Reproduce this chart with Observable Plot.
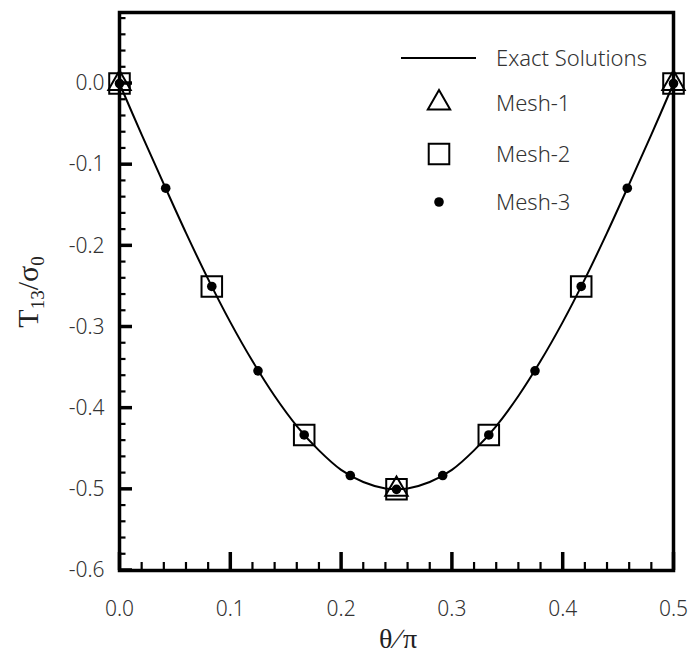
<!DOCTYPE html>
<html>
<head>
<meta charset="utf-8">
<script src="https://cdn.jsdelivr.net/npm/d3@7"></script>
<script src="https://cdn.jsdelivr.net/npm/@observablehq/plot@0.6"></script>
<style>
  html, body { margin: 0; padding: 0; background: #fff; }
</style>
</head>
<body>
<div id="chart"></div>
<script>
// ---- data ----
const exactX = [0, 0.02, 0.04, 0.06, 0.08, 0.10, 0.12, 0.14, 0.16, 0.18, 0.20, 0.22, 0.24, 0.25,
                0.26, 0.28, 0.30, 0.32, 0.34, 0.36, 0.38, 0.40, 0.42, 0.44, 0.46, 0.48, 0.50];
const exactY = [0, -0.063, -0.124, -0.184, -0.241, -0.294, -0.342, -0.385, -0.422, -0.452, -0.476, -0.491, -0.499, -0.5,
                -0.499, -0.491, -0.476, -0.452, -0.422, -0.385, -0.342, -0.294, -0.241, -0.184, -0.124, -0.063, 0];

const mesh1X = [0, 0.25, 0.5];
const mesh1Y = [0, -0.5, 0];

const mesh2X = [0, 0.0833, 0.1667, 0.25, 0.3333, 0.4167, 0.5];
const mesh2Y = [0, -0.25, -0.433, -0.5, -0.433, -0.25, 0];

const mesh3X = [0, 0.0417, 0.0833, 0.125, 0.1667, 0.2083, 0.25, 0.2917, 0.3333, 0.375, 0.4167, 0.4583, 0.5];
const mesh3Y = [0, -0.129, -0.25, -0.354, -0.433, -0.483, -0.5, -0.483, -0.433, -0.354, -0.25, -0.129, 0];

const xMajorTicks = [0, 0.1, 0.2, 0.3, 0.4, 0.5];
const xMinorTicks = [0.02, 0.04, 0.06, 0.08, 0.12, 0.14, 0.16, 0.18, 0.22, 0.24, 0.26, 0.28,
                     0.32, 0.34, 0.36, 0.38, 0.42, 0.44, 0.46, 0.48];
const yMajorTicks = [-0.6, -0.5, -0.4, -0.3, -0.2, -0.1, 0];
const yMinorTicks = [-0.58, -0.56, -0.54, -0.52, -0.48, -0.46, -0.44, -0.42, -0.38, -0.36, -0.34, -0.32,
                     -0.28, -0.26, -0.24, -0.22, -0.18, -0.16, -0.14, -0.12, -0.08, -0.06, -0.04, -0.02,
                     0.02, 0.04, 0.06, 0.08];
const xDomain = [0, 0.5];
const yDomain = [-0.6, 0.0875];

const legendLabels = ["Exact Solutions", "Mesh-1", "Mesh-2", "Mesh-3"];

// ---- tables built from the arrays ----
const exact = exactX.map((x, i) => ({x, y: exactY[i]}));
const mesh1 = mesh1X.map((x, i) => ({x, y: mesh1Y[i]}));
const mesh2 = mesh2X.map((x, i) => ({x, y: mesh2Y[i]}));
const mesh3 = mesh3X.map((x, i) => ({x, y: mesh3Y[i]}));

const fmt = d => d.toFixed(1);
const textFont = "'Noto Sans', 'Open Sans', sans-serif";
const textWeight = 300;
const textColor = "#333";

const W = 691, H = 657;
const mL = 119, mR = 18, mT = 12, mB = 87;
const frameW = W - mL - mR, frameH = H - mT - mB;

const plot = Plot.plot({
  width: W,
  height: H,
  marginLeft: mL,
  marginRight: mR,
  marginTop: mT,
  marginBottom: mB,
  style: {fontFamily: textFont, fontSize: "21px", fontWeight: textWeight, color: textColor, background: "#fff"},
  x: {domain: xDomain},
  y: {domain: yDomain},
  marks: [
    // tick labels
    Plot.axisX(xMajorTicks, {tickSize: 0, tickPadding: 31, tickFormat: fmt, label: null, fontSize: 21, fill: textColor}),
    Plot.axisY(yMajorTicks, {tickSize: 0, tickPadding: 15, tickFormat: fmt, label: null, fontSize: 21, fill: textColor}),
    // inward x tick marks
    Plot.tickX(xMajorTicks, {x: d => d, insetTop: frameH - 18, stroke: "#000", strokeWidth: 3.5}),
    Plot.tickX(xMinorTicks, {x: d => d, insetTop: frameH - 8, stroke: "#000", strokeWidth: 2.2}),
    Plot.frame({stroke: "#000", strokeWidth: 3.5}),
    // data
    Plot.line(exact, {x: "x", y: "y", curve: "catmull-rom", stroke: "#000", strokeWidth: 2}),
    Plot.dot(mesh1, {x: "x", y: "y", symbol: "triangle", r: 8.3, stroke: "#000", strokeWidth: 2, fill: "none"}),
    Plot.dot(mesh2, {x: "x", y: "y", symbol: "square", r: 11.6, stroke: "#000", strokeWidth: 2, fill: "none"}),
    Plot.dot(mesh3, {x: "x", y: "y", symbol: "circle", r: 4.8, fill: "#000", stroke: "none"})
  ]
});

const svg = d3.select(plot);
const yScale = plot.scale("y");

// inward y tick marks, positioned through Plot's own y scale
const yt0 = svg.append("g").attr("stroke", "#000");
yMajorTicks.forEach(v => {
  const py = yScale.apply(v);
  yt0.append("line").attr("x1", mL).attr("x2", mL + 13).attr("y1", py).attr("y2", py).attr("stroke-width", 3.5);
});
yMinorTicks.forEach(v => {
  const py = yScale.apply(v);
  yt0.append("line").attr("x1", mL).attr("x2", mL + 6.5).attr("y1", py).attr("y2", py).attr("stroke-width", 2.2);
});

// axis titles
const yt = svg.append("text")
  .attr("transform", "translate(38,292) rotate(-90)")
  .attr("text-anchor", "middle")
  .attr("font-family", "'Liberation Serif', 'DejaVu Serif', serif")
  .attr("font-weight", 400)
  .attr("font-size", 30)
  .attr("fill", "#222");
yt.append("tspan").text("T");
yt.append("tspan").attr("font-size", 19).attr("dy", 6).text("13");
yt.append("tspan").attr("dy", -6).text("/σ");
yt.append("tspan").attr("font-size", 19).attr("dy", 6).text("0");

const xt = svg.append("text")
  .attr("x", 398).attr("y", 648)
  .attr("text-anchor", "middle")
  .attr("font-family", "'Liberation Serif', 'DejaVu Serif', serif")
  .attr("font-weight", 400)
  .attr("font-size", 28)
  .attr("fill", "#222");
xt.append("tspan").text("θ");
xt.append("tspan").attr("dx", 3).text("∕");
xt.append("tspan").attr("dx", 3).text("π");

// legend
const lg = svg.append("g");
const sym = (type, r) => d3.symbol().type(type).size(Math.PI * r * r)();
const rowsY = [58, 103, 154, 202];
lg.append("line").attr("x1", 401).attr("x2", 476).attr("y1", rowsY[0]).attr("y2", rowsY[0])
  .attr("stroke", "#000").attr("stroke-width", 2);
lg.append("path").attr("d", sym(d3.symbolTriangle, 8.3)).attr("transform", `translate(439,${rowsY[1]})`)
  .attr("fill", "none").attr("stroke", "#000").attr("stroke-width", 2);
lg.append("path").attr("d", sym(d3.symbolSquare, 11.6)).attr("transform", `translate(439,${rowsY[2]})`)
  .attr("fill", "none").attr("stroke", "#000").attr("stroke-width", 2);
lg.append("path").attr("d", sym(d3.symbolCircle, 4.8)).attr("transform", `translate(439,${rowsY[3]})`)
  .attr("fill", "#000");
legendLabels.forEach((t, i) => {
  lg.append("text").attr("x", 496).attr("y", rowsY[i]).attr("dy", "0.35em")
    .attr("text-anchor", "start")
    .attr("font-family", textFont).attr("font-weight", textWeight)
    .attr("font-size", 22).attr("fill", textColor).text(t);
});

document.getElementById("chart").appendChild(plot);
</script>
</body>
</html>
